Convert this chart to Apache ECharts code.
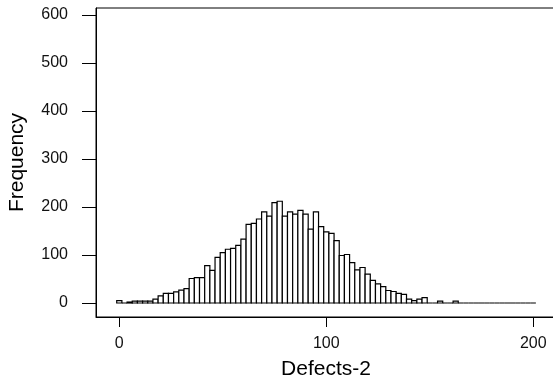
<!DOCTYPE html>
<html>
<head>
<meta charset="utf-8">
<script src="https://cdn.jsdelivr.net/npm/echarts@6/dist/echarts.min.js"></script>
<style>
  html, body { margin: 0; padding: 0; background: #fff; }
  #chart { width: 553px; height: 386px; }
</style>
</head>
<body>
<div id="chart"></div>
<script>
// Histogram bins (midpoints), bin width 2.5
var binWidth = 2.5;
var binMids = [
  0, 2.5, 5, 7.5, 10, 12.5, 15, 17.5, 20, 22.5,
  25, 27.5, 30, 32.5, 35, 37.5, 40, 42.5, 45, 47.5,
  50, 52.5, 55, 57.5, 60, 62.5, 65, 67.5, 70, 72.5,
  75, 77.5, 80, 82.5, 85, 87.5, 90, 92.5, 95, 97.5,
  100, 102.5, 105, 107.5, 110, 112.5, 115, 117.5, 120, 122.5,
  125, 127.5, 130, 132.5, 135, 137.5, 140, 142.5, 145, 147.5,
  150, 152.5, 155, 157.5, 160, 162.5, 165, 167.5, 170, 172.5,
  175, 177.5, 180, 182.5, 185, 187.5, 190, 192.5, 195, 197.5,
  200
];
var counts = [
  5, 0, 2, 4, 4, 4, 4, 8, 15, 20,
  20, 23, 27, 30, 51, 53, 53, 78, 68, 95,
  105, 112, 114, 120, 133, 164, 166, 175, 190, 181,
  209, 212, 181, 190, 185, 193, 185, 154, 190, 159,
  148, 145, 130, 99, 101, 84, 69, 74, 60, 47,
  40, 34, 26, 24, 20, 18, 8, 5, 8, 11,
  0, 0, 4, 0, 0, 4, 0, 0, 0, 0,
  0, 0, 0, 0, 0, 0, 0, 0, 0, 0,
  0
];
var xTicks = [0, 100, 200];
var yTicks = [0, 100, 200, 300, 400, 500, 600];

var fontFamily = '"Liberation Sans", Arial, sans-serif';
var chart = echarts.init(document.getElementById('chart'), null, { renderer: 'canvas' });

var seriesData = binMids.map(function (m, i) { return [m, counts[i]]; });

var option = {
  backgroundColor: '#ffffff',
  animation: false,
  grid: {
    left: 96,
    top: 8,
    bottom: 69,
    right: -3,
    outerBoundsMode: 'none',
    containLabel: false,
    show: true,
    borderColor: '#000',
    borderWidth: 1,
    backgroundColor: 'transparent'
  },
  xAxis: {
    type: 'value',
    min: -11.26,
    max: 210.97,
    name: 'Defects-2',
    nameLocation: 'middle',
    nameGap: 42,
    nameTextStyle: { color: '#000', fontSize: 21, fontFamily: fontFamily },
    axisLine: { show: true, onZero: false, lineStyle: { color: '#000', width: 1 } },
    axisTick: { show: true, length: 10, customValues: xTicks, lineStyle: { color: '#000' } },
    axisLabel: { customValues: xTicks, color: '#111', fontSize: 16, fontFamily: fontFamily, margin: 19 },
    splitLine: { show: false }
  },
  yAxis: {
    type: 'value',
    min: -29.17,
    max: 614.58,
    name: 'Frequency',
    nameLocation: 'middle',
    nameGap: 68,
    nameTextStyle: { color: '#000', fontSize: 21, fontFamily: fontFamily },
    axisLine: { show: true, onZero: false, lineStyle: { color: '#000', width: 1 } },
    axisTick: { show: true, length: 14, customValues: yTicks, lineStyle: { color: '#000' } },
    axisLabel: { customValues: yTicks, color: '#111', fontSize: 16, fontFamily: fontFamily, margin: 28 },
    splitLine: { show: false }
  },
  series: [{
    type: 'custom',
    data: seriesData,
    renderItem: function (params, api) {
      var mid = api.value(0);
      var cnt = api.value(1);
      var p1 = api.coord([mid - binWidth / 2, cnt]);
      var p2 = api.coord([mid + binWidth / 2, 0]);
      return {
        type: 'rect',
        shape: { x: p1[0], y: p1[1], width: p2[0] - p1[0], height: p2[1] - p1[1] },
        style: { fill: '#fff', stroke: '#000', lineWidth: 1.2 }
      };
    }
  }]
};

chart.setOption(option);
window.addEventListener('resize', function () { chart.resize(); });
</script>
</body>
</html>
